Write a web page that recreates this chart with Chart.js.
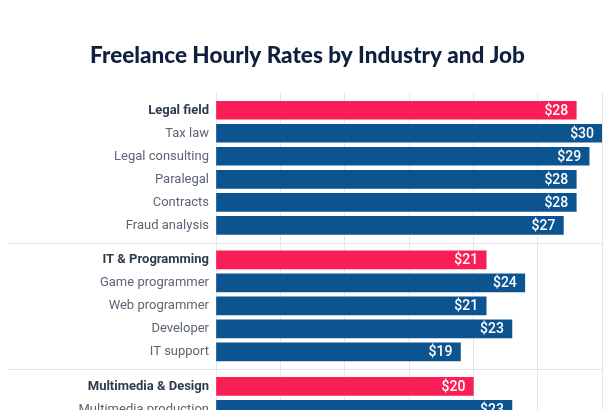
<!DOCTYPE html>
<html>
<head>
<meta charset="utf-8">
<script src="https://cdn.jsdelivr.net/npm/chart.js@4"></script>
<style>
html,body{margin:0;padding:0;background:#fff;overflow:hidden;}
#wrap{width:615px;height:430px;position:relative;}
</style>
</head>
<body>
<div id="wrap"><canvas id="c"></canvas></div>
<script>
const titleText = 'Freelance Hourly Rates by Industry and Job';
const groups = ['Legal field', 'IT & Programming', 'Multimedia & Design'];
const groupValues = [28, 21, 20];
const legalJobs = ['Tax law', 'Legal consulting', 'Paralegal', 'Contracts', 'Fraud analysis'];
const legalValues = [30, 29, 28, 28, 27];
const itJobs = ['Game programmer', 'Web programmer', 'Developer', 'IT support'];
const itValues = [24, 21, 23, 19];
const mediaJobs = ['Multimedia production'];
const mediaValues = [23];
const xTicks = [0, 5, 10, 15, 20, 25, 30];

const jobsByGroup = [legalJobs, itJobs, mediaJobs];
const valuesByGroup = [legalValues, itValues, mediaValues];

// Build half-row slots: blank slots give the spacing between rows and groups
const labels = [''];
const values = [null];
const isHeader = [false];
const separators = [];
groups.forEach((g, gi) => {
  if (gi > 0) {
    separators.push(labels.length);
    labels.push(''); values.push(null); isHeader.push(false);
    labels.push(''); values.push(null); isHeader.push(false);
  }
  labels.push(g); values.push(groupValues[gi]); isHeader.push(true);
  jobsByGroup[gi].forEach((j, ji) => {
    labels.push(''); values.push(null); isHeader.push(false);
    labels.push(j); values.push(valuesByGroup[gi][ji]); isHeader.push(false);
  });
});

const PINK = '#F91E55';
const BLUE = '#0C5490';

const valueLabels = {
  id: 'valueLabels',
  afterDatasetsDraw(chart) {
    const ctx = chart.ctx;
    const meta = chart.getDatasetMeta(0);
    ctx.save();
    ctx.fillStyle = '#ffffff';
    ctx.font = '500 14px Roboto';
    ctx.textAlign = 'right';
    ctx.textBaseline = 'middle';
    meta.data.forEach((el, i) => {
      const v = values[i];
      if (v === null) return;
      ctx.fillText('$' + v, el.x - 8, el.y + 1);
    });
    ctx.restore();
  }
};

const separatorLines = {
  id: 'separatorLines',
  beforeDatasetsDraw(chart) {
    const ctx = chart.ctx;
    const y = chart.scales.y;
    ctx.save();
    ctx.strokeStyle = '#e3e3e6';
    ctx.lineWidth = 1;
    separators.forEach(i => {
      const py = Math.round((y.getPixelForValue(i) + y.getPixelForValue(i + 1)) / 2) + 0.5;
      ctx.beginPath();
      ctx.moveTo(8, py);
      ctx.lineTo(chart.chartArea.right, py);
      ctx.stroke();
    });
    ctx.restore();
  }
};

new Chart(document.getElementById('c'), {
  type: 'bar',
  data: {
    labels: labels,
    datasets: [{
      data: values,
      backgroundColor: labels.map((l, i) => isHeader[i] ? PINK : BLUE),
      barThickness: 18,
      borderWidth: 0
    }]
  },
  options: {
    indexAxis: 'y',
    responsive: true,
    maintainAspectRatio: false,
    animation: false,
    layout: { padding: 0 },
    plugins: {
      legend: { display: false },
      tooltip: { enabled: false },
      title: {
        display: true,
        text: titleText,
        color: '#0f1f3d',
        font: { family: 'Lato', size: 22.5, weight: '900' },
        padding: { top: 42, bottom: 24 }
      }
    },
    scales: {
      x: {
        min: 0,
        max: 30,
        afterBuildTicks: s => { s.ticks = xTicks.map(v => ({ value: v })); },
        afterFit: s => { s.height = 0; },
        ticks: { display: false },
        grid: { color: '#e6e6ea', drawTicks: false },
        border: { display: false }
      },
      y: {
        afterFit: s => { s.width = 216; },
        grid: { display: false, drawTicks: false },
        border: { display: false },
        ticks: {
          autoSkip: false,
          padding: 7,
          color: ctx => isHeader[ctx.index] ? '#2f3b4c' : '#5b6574',
          font: ctx => ({
            family: 'Roboto',
            size: 13,
            weight: isHeader[ctx.index] ? 'bold' : 'normal'
          })
        }
      },
      yRight: {
        type: 'linear',
        position: 'right',
        display: true,
        afterFit: s => { s.width = 13; },
        ticks: { display: false },
        grid: { display: false, drawTicks: false },
        border: { display: false }
      }
    }
  },
  plugins: [separatorLines, valueLabels]
});
</script>
</body>
</html>
